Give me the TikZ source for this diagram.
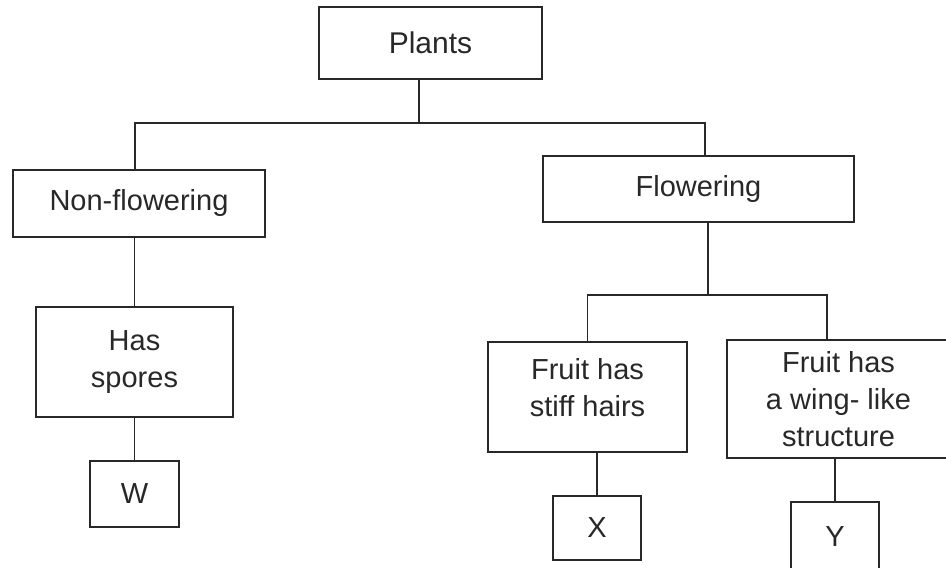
\documentclass[tikz,border=0pt]{standalone}
\usepackage{fontspec}
\setmainfont{Liberation Sans}
\usepackage{xcolor}
\definecolor{ink}{RGB}{40,40,40}
\usepackage{tikz}

\tikzset{
    box/.style={draw=ink, line width=0.9pt, text=ink, align=center, inner sep=0pt,
        font=\fontsize{14.5}{18.5}\selectfont},
    link/.style={draw=ink, line width=0.9pt}
}

\begin{document}
\begin{tikzpicture}[x=0.5pt, y=-0.5pt]
                \useasboundingbox (0,0) rectangle (946,567);
                \node [box, minimum width=111.5pt, minimum height=36pt, font=\fontsize{15}{18.5}\selectfont] (plants) at (430.5,43) {Plants};
                \node [box, minimum width=126pt, minimum height=33.5pt] (nonflower) at (139,203.5) {Non-flowering};
                \node [box, minimum width=155.5pt, minimum height=33pt] (flower) at (698.5,189) {Flowering};
                \node [box, minimum width=98.5pt, minimum height=55pt] (spores) at (134.5,362) {Has\\spores};
                \node [box, minimum width=44.5pt, minimum height=33pt] (W) at (134.5,494) {W};
                \node [box, minimum width=99.5pt, minimum height=55pt] (stiff) at (587.5,397) {Fruit has\\stiff hairs\\[-9pt]};
                \node [box, minimum width=44pt, minimum height=32pt] (X) at (597,528) {X};
                \node [box, minimum width=111.5pt, minimum height=59pt] (wing) at (838.5,399) {Fruit has\\a wing- like\\structure};
                \node [box, minimum width=44pt, minimum height=35pt] (Y) at (835,537) {Y};
                % joints of the tree
                \coordinate (root) at (419,123);
                \coordinate (fork) at (708,295);
                \draw [link] (plants.south -| root) -- (root);
                \draw [link] ([xshift=-2pt]nonflower.north) |- (root) -| ([xshift=3.25pt]flower.north);
                \draw [link] (spores.north |- nonflower.south) -- (spores.north);
                \draw [link] (spores.south) -- (W.north);
                \draw [link] (flower.south -| fork) -- (fork);
                \draw [link] (stiff.north) |- (fork) -| ([xshift=-5.75pt]wing.north);
                \draw [link] (X.north |- stiff.south) -- (X.north);
                \draw [link] (Y.north |- wing.south) -- (Y.north);
            \end{tikzpicture}
\end{document}
